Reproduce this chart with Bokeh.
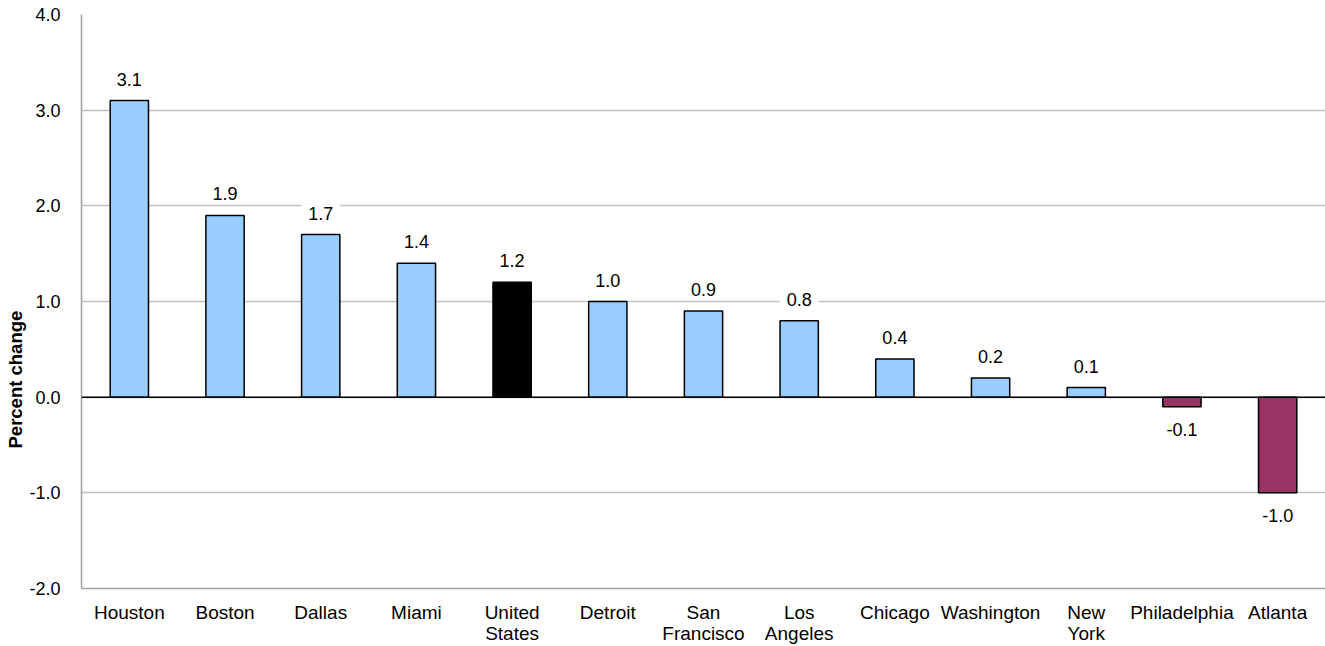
from bokeh.plotting import figure
from bokeh.models import ColumnDataSource, Span, FixedTicker, Range1d, Title
from bokeh.core.properties import value
from bokeh.embed import file_html
from bokeh.resources import INLINE

cities = ["Houston", "Boston", "Dallas", "Miami", "United\nStates", "Detroit",
          "San\nFrancisco", "Los\nAngeles", "Chicago", "Washington", "New\nYork",
          "Philadelphia", "Atlanta"]
values = [3.1, 1.9, 1.7, 1.4, 1.2, 1.0, 0.9, 0.8, 0.4, 0.2, 0.1, -0.1, -1.0]
labels = ["3.1", "1.9", "1.7", "1.4", "1.2", "1.0", "0.9", "0.8", "0.4", "0.2", "0.1", "-0.1", "-1.0"]
y_ticks = [-2.0, -1.0, 0.0, 1.0, 2.0, 3.0, 4.0]
y_tick_labels = ["-2.0", "-1.0", "0.0", "1.0", "2.0", "3.0", "4.0"]
y_title = "Percent change"

BLUE = "#99CCFF"
US = "#000000"
NEG = "#993366"
colors = [US if c == "United\nStates" else (NEG if v < 0 else BLUE) for c, v in zip(cities, values)]

src = ColumnDataSource(dict(city=cities, val=values, color=colors, lab=labels))
pos_idx = [i for i, v in enumerate(values) if v >= 0]
neg_idx = [i for i, v in enumerate(values) if v < 0]
pos_src = ColumnDataSource(dict(city=[cities[i] for i in pos_idx], val=[values[i] for i in pos_idx],
                                lab=[labels[i] for i in pos_idx]))
neg_src = ColumnDataSource(dict(city=[cities[i] for i in neg_idx], val=[values[i] for i in neg_idx],
                                lab=[labels[i] for i in neg_idx]))

p = figure(x_range=cities, y_range=Range1d(-2.0, 4.0), width=1325, height=646,
           output_backend="svg", toolbar_location=None,
           min_border_left=81, min_border_right=0, min_border_top=14, min_border_bottom=40)

p.vbar(x="city", top="val", bottom=0, width=0.4, source=src,
       fill_color="color", line_color="black", line_width=1.5)

p.add_layout(Span(location=0, dimension="width", line_color="black", line_width=1.5))

font = "Liberation Sans"
common = dict(x="city", y="val", text="lab", text_align="center", text_font=value(font),
              text_font_size="18px", text_color="black",
              background_fill_color="white", padding=[7, 2])
p.text(source=pos_src, y_offset=-13, text_baseline="bottom", **common)
p.text(source=neg_src, y_offset=14, text_baseline="top", **common)

p.add_layout(Title(text=y_title, align="left", offset=140, standoff=2,
                   text_font=font, text_font_size="18.5px", text_font_style="bold",
                   text_color="black"), "left")

p.outline_line_color = None
p.xgrid.grid_line_color = None
p.ygrid.grid_line_color = "#C0C0C0"
p.ygrid.grid_line_width = 1.5
p.ygrid.ticker = FixedTicker(ticks=y_ticks)

p.yaxis.ticker = FixedTicker(ticks=y_ticks)
p.yaxis.major_label_overrides = {t: l for t, l in zip(y_ticks, y_tick_labels)}
p.yaxis.axis_line_color = "#A0A0A0"
p.yaxis.axis_line_width = 1.5
p.yaxis.major_tick_line_color = None
p.yaxis.minor_tick_line_color = None
p.yaxis.major_label_standoff = 15
p.yaxis.major_label_text_font = font
p.yaxis.major_label_text_font_size = "18px"
p.yaxis.major_label_text_color = "black"

p.xaxis.axis_line_color = "#A0A0A0"
p.xaxis.axis_line_width = 1.5
p.xaxis.major_tick_in = 0
p.xaxis.major_tick_out = 0
p.xaxis.major_tick_line_color = None
p.xaxis.minor_tick_line_color = None
p.xaxis.axis_label_standoff = 0
p.xaxis.major_label_standoff = 13
p.xaxis.major_label_text_font = font
p.xaxis.major_label_text_font_size = "19px"
p.xaxis.major_label_text_color = "black"
p.xaxis.major_label_text_line_height = 1.0
p.x_range.range_padding = 0

open("out.html", "w").write(file_html(p, INLINE))
